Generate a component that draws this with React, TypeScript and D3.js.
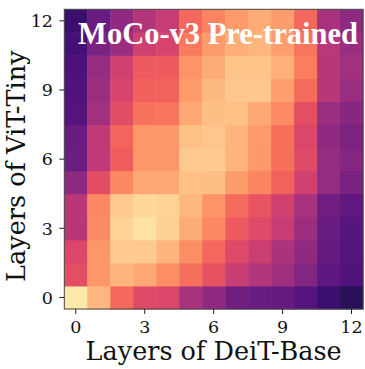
import * as d3 from 'd3';
import React from 'react';

// similarity values (magma scale position), rows from layer 0 (bottom) to 12 (top)
const rowValues: number[][] = [
  [0.955, 0.85, 0.685, 0.6, 0.59, 0.465, 0.41, 0.33, 0.31, 0.3, 0.26, 0.2, 0.16],
  [0.615, 0.78, 0.845, 0.82, 0.765, 0.7, 0.625, 0.545, 0.495, 0.445, 0.375, 0.285, 0.25],
  [0.59, 0.78, 0.89, 0.89, 0.845, 0.765, 0.68, 0.6, 0.55, 0.475, 0.41, 0.3, 0.26],
  [0.5, 0.755, 0.91, 0.94, 0.905, 0.825, 0.75, 0.65, 0.605, 0.54, 0.435, 0.31, 0.265],
  [0.5, 0.75, 0.89, 0.92, 0.91, 0.85, 0.775, 0.695, 0.635, 0.565, 0.465, 0.33, 0.29],
  [0.4, 0.61, 0.75, 0.82, 0.82, 0.87, 0.865, 0.795, 0.745, 0.67, 0.565, 0.42, 0.355],
  [0.32, 0.52, 0.66, 0.78, 0.78, 0.89, 0.89, 0.845, 0.785, 0.7, 0.605, 0.42, 0.38],
  [0.31, 0.525, 0.675, 0.78, 0.78, 0.87, 0.88, 0.845, 0.79, 0.7, 0.59, 0.41, 0.36],
  [0.26, 0.455, 0.61, 0.705, 0.71, 0.82, 0.865, 0.87, 0.82, 0.755, 0.615, 0.44, 0.39],
  [0.25, 0.435, 0.585, 0.665, 0.67, 0.79, 0.855, 0.885, 0.885, 0.8, 0.695, 0.5, 0.43],
  [0.245, 0.425, 0.565, 0.65, 0.655, 0.775, 0.825, 0.875, 0.875, 0.835, 0.73, 0.5, 0.45],
  [0.22, 0.355, 0.44, 0.56, 0.585, 0.72, 0.79, 0.83, 0.845, 0.8, 0.71, 0.5, 0.43],
  [0.2, 0.31, 0.41, 0.495, 0.54, 0.68, 0.74, 0.79, 0.825, 0.795, 0.68, 0.465, 0.4],
];

const layers = d3.range(13);
const tickLayers = [0, 3, 6, 9, 12];
const title = 'MoCo-v3 Pre-trained';
const xTitle = 'Layers of DeiT-Base';
const yTitle = 'Layers of ViT-Tiny';

const App = () => {
  const left = 64.3;
  const right = 363;
  const top = 9.3;
  const bottom = 309;

  const x = d3.scaleBand<number>().domain(layers).range([left, right]);
  const y = d3.scaleBand<number>().domain(layers).range([bottom, top]);
  const color = (v: number) => d3.interpolateMagma(v);
  const serif = 'DejaVu Serif';

  return (
    <svg width={365} height={369} style={{ position: 'absolute', left: 0, top: 0 }}>
      <rect width={365} height={369} fill="#fff" />
      {rowValues.map((row, r) =>
        row.map((v, c) => (
          <rect
            key={`${r}-${c}`}
            x={x(c)}
            y={y(r)}
            width={x.bandwidth() + 0.5}
            height={y.bandwidth() + 0.5}
            fill={color(v)}
          />
        ))
      )}
      <rect x={left} y={top} width={right - left} height={bottom - top} fill="none" stroke="#444" strokeWidth={1} />

      {tickLayers.map((t) => {
        const cx = (x(t) as number) + x.bandwidth() / 2;
        return (
          <g key={`x${t}`}>
            <line x1={cx} x2={cx} y1={bottom} y2={bottom + 5} stroke="#222" />
            <text x={cx} y={332.5} textAnchor="middle" fontFamily={serif} fontSize={17.5} fill="#111">{t}</text>
          </g>
        );
      })}
      {tickLayers.map((t) => {
        const cy = (y(t) as number) + y.bandwidth() / 2;
        return (
          <g key={`y${t}`}>
            <line x1={left - 5} x2={left} y1={cy} y2={cy} stroke="#222" />
            <text x={53} y={cy} dy="0.36em" textAnchor="end" fontFamily={serif} fontSize={17.5} fill="#111">{t}</text>
          </g>
        );
      })}

      <text x={(left + right) / 2} y={360} textAnchor="middle" fontFamily={serif} fontSize={25.5} fill="#111">{xTitle}</text>
      <text transform={`translate(25,${(top + bottom) / 2 + 7}) rotate(-90)`} textAnchor="middle" fontFamily={serif} fontSize={25.5} fill="#111">{yTitle}</text>

      <text x={218} y={44} textAnchor="middle" fontFamily="Liberation Serif" fontWeight="bold" fontSize={30.5} fill="#fff">{title}</text>
    </svg>
  );
};

export default App;
